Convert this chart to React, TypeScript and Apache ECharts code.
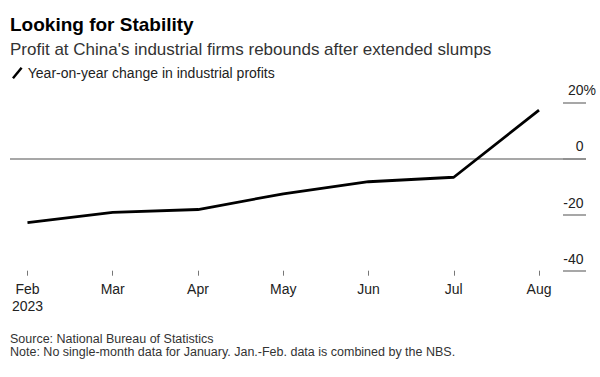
import React, { useEffect, useRef } from "react";
import * as echarts from "echarts";

const months = ["Feb", "Mar", "Apr", "May", "Jun", "Jul", "Aug"];
const yearLabel = "2023";
const profitChange = [-22.9, -19.2, -18.2, -12.6, -8.3, -6.7, 17.2];
const yTicks = [-40, -20, 0, 20];
const seriesName = "Year-on-year change in industrial profits";
const titleText = "Looking for Stability";
const subtitleText = "Profit at China's industrial firms rebounds after extended slumps";
const sourceText = "Source: National Bureau of Statistics";
const noteText = "Note: No single-month data for January. Jan.-Feb. data is combined by the NBS.";

const FONT = "'Liberation Sans', Arial, Helvetica, sans-serif";

export default function App() {
  const ref = useRef<HTMLDivElement>(null);
  useEffect(() => {
    if (!ref.current) return;
    const chart = echarts.init(ref.current, null, { renderer: "svg" });
    const xIdx = months.map((_, i) => i);
    chart.setOption({
      animation: false,
      backgroundColor: "#ffffff",
      textStyle: { fontFamily: FONT },
      title: [
        {
          text: titleText,
          left: 10,
          top: 13,
          padding: 0,
          textStyle: { fontFamily: FONT, fontSize: 19, fontWeight: "bold", color: "#000", lineHeight: 22 },
        },
        {
          text: subtitleText,
          left: 10,
          top: 39,
          padding: 0,
          textStyle: { fontFamily: FONT, fontSize: 17, fontWeight: "normal", color: "#333", lineHeight: 20 },
        },
        {
          text: sourceText + "\n" + noteText,
          left: 10,
          top: 332,
          padding: 0,
          textStyle: { fontFamily: FONT, fontSize: 12.5, fontWeight: "normal", color: "#333", lineHeight: 13 },
        },
      ],
      legend: {
        left: 12,
        top: 66,
        padding: 0,
        itemWidth: 11,
        itemHeight: 12,
        data: [{ name: seriesName, icon: "path://M0,11 L9,0 L11,1.5 L2,12.5 Z" }],
        itemStyle: { color: "#000" },
        textStyle: { fontFamily: FONT, fontSize: 14, color: "#222" },
        selectedMode: false,
      },
      grid: { left: 10, right: 14, top: 102.3, bottom: 106.3, containLabel: false },
      xAxis: {
        type: "value",
        min: -0.205,
        max: 6.551,
        axisLine: { show: false, onZero: false },
        splitLine: { show: false },
        axisTick: {
          show: true,
          customValues: xIdx,
          length: 5,
          lineStyle: { color: "#777", width: 1 },
        },
        axisLabel: {
          customValues: xIdx,
          margin: 10,
          fontFamily: FONT,
          fontSize: 14,
          lineHeight: 17,
          color: "#222",
          formatter: (v: number) => {
            const i = Math.round(v);
            return i === 0 ? months[0] + "\n" + yearLabel : months[i] ?? "";
          },
        },
      },
      yAxis: {
        type: "value",
        position: "right",
        min: yTicks[0],
        max: yTicks[yTicks.length - 1],
        interval: 20,
        axisLine: { show: false, onZero: false },
        splitLine: { show: false },
        axisTick: {
          show: true,
          inside: true,
          length: 23,
          lineStyle: { color: "#8a8a8a", width: 1.5 },
        },
        axisLabel: {
          inside: false,
          margin: 10,
          align: "right",
          verticalAlign: "bottom",
          padding: [0, 0, 5, 0],
          formatter: (v: number) =>
            v === yTicks[yTicks.length - 1] ? `{n|${v}%}` : `{n|${v}}{h|%}`,
          rich: {
            n: { fontFamily: FONT, fontSize: 14, color: "#222", lineHeight: 14 },
            h: { fontFamily: FONT, fontSize: 14, color: "rgba(0,0,0,0)", lineHeight: 14 },
          },
        },
      },
      series: [
        {
          name: seriesName,
          type: "line",
          data: profitChange.map((v, i) => [i, v]),
          showSymbol: false,
          symbol: "none",
          lineStyle: { color: "#000", width: 2.8, join: "round" },
          itemStyle: { color: "#000" },
          z: 5,
          markLine: {
            silent: true,
            symbol: "none",
            label: { show: false },
            lineStyle: { color: "#8a8a8a", width: 1.5, type: "solid" },
            data: [{ yAxis: 0 }],
            z: 1,
          },
        },
      ],
    });
    return () => chart.dispose();
  }, []);
  return (
    <div
      ref={ref}
      style={{ position: "fixed", left: 0, top: 0, width: 600, height: 377 }}
    />
  );
}
